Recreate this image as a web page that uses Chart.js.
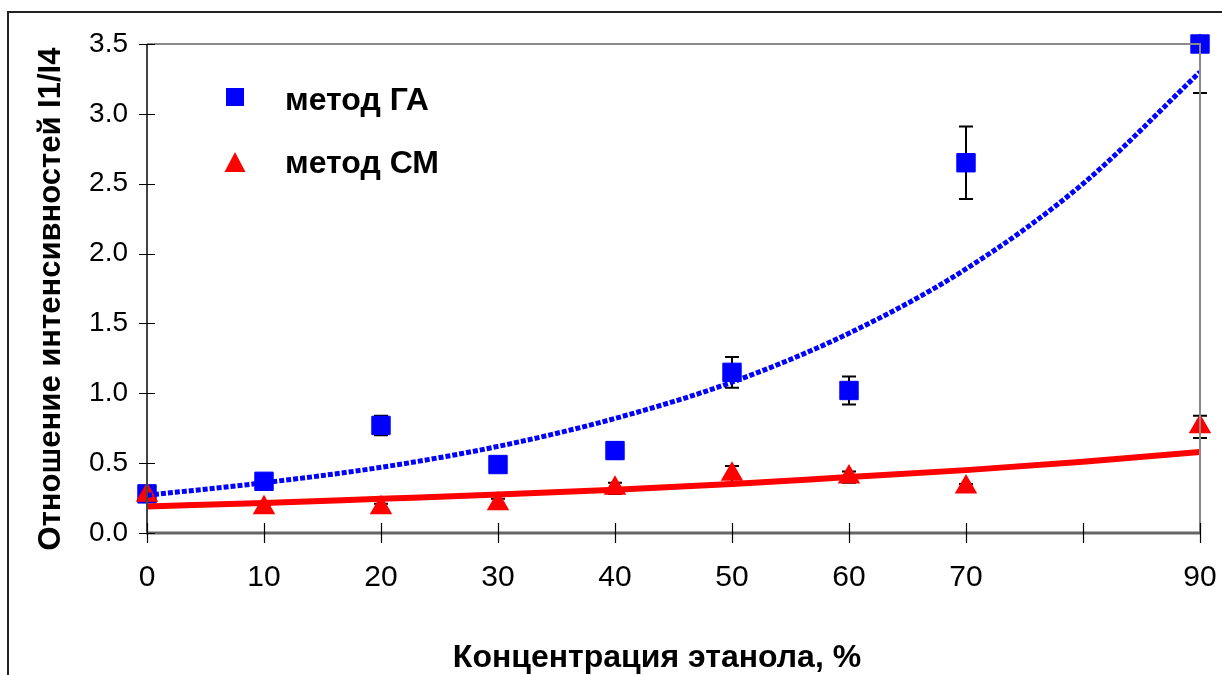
<!DOCTYPE html>
<html><head><meta charset="utf-8">
<script src="https://cdn.jsdelivr.net/npm/chart.js@4/dist/chart.umd.min.js"></script>
<style>html,body{margin:0;padding:0;background:#fff}#wrap{width:1222px;height:675px;position:relative}</style>
</head><body><div id="wrap"><canvas id="c"></canvas></div>
<script>
// ---- data ----
const xTicks = [0, 10, 20, 30, 40, 50, 60, 70, 80, 90];
const xTickLabels = ['0', '10', '20', '30', '40', '50', '60', '70', '', '90'];
const yTicks = [0, 0.5, 1.0, 1.5, 2.0, 2.5, 3.0, 3.5];
const yTickLabels = ['0.0', '0.5', '1.0', '1.5', '2.0', '2.5', '3.0', '3.5'];
const concentrations = [0, 10, 20, 30, 40, 50, 60, 70, 90];
const gaValues = [0.28, 0.37, 0.77, 0.49, 0.59, 1.15, 1.02, 2.65, 3.50];
const gaErrors = [0.02, 0.03, 0.07, 0.03, 0.06, 0.11, 0.10, 0.26, 0.35];
const smValues = [0.27, 0.18, 0.18, 0.21, 0.32, 0.42, 0.40, 0.33, 0.76];
const smErrors = [0.02, 0.02, 0.03, 0.035, 0.04, 0.06, 0.04, 0.02, 0.08];
const trendX = [0, 10, 20, 30, 40, 50, 60, 70, 80, 90];
const gaTrend = [0.27, 0.36, 0.47, 0.62, 0.82, 1.08, 1.43, 1.89, 2.50, 3.30];
const smTrend = [0.19, 0.215, 0.245, 0.275, 0.31, 0.35, 0.40, 0.45, 0.51, 0.58];
const seriesNames = ['метод ГА', 'метод СМ'];
const xTitle = 'Концентрация этанола, %';
const yTitle = 'Отношение интенсивностей I1/I4';

const FONT = '"Liberation Sans", Arial, sans-serif';
const pts = (xs, ys) => xs.map((x, i) => ({x: x, y: ys[i]}));

const decorPlugin = {
  id: 'decor',
  beforeDatasetsDraw(chart) {
    const ctx = chart.ctx, xs = chart.scales.x, ys = chart.scales.y, ca = chart.chartArea;
    ctx.save();
    ctx.beginPath();
    ctx.rect(ca.left - 20, ca.top - 10, ca.right - ca.left + 40, ca.bottom - ca.top + 20);
    ctx.clip();
    ctx.strokeStyle = '#000';
    ctx.lineWidth = 2;
    const drawErr = (vals, errs) => {
      concentrations.forEach((c, i) => {
        const px = xs.getPixelForValue(c);
        const y1 = ys.getPixelForValue(vals[i] + errs[i]);
        const y2 = ys.getPixelForValue(vals[i] - errs[i]);
        ctx.beginPath();
        ctx.moveTo(px, y1); ctx.lineTo(px, y2);
        ctx.moveTo(px - 7, y1); ctx.lineTo(px + 7, y1);
        ctx.moveTo(px - 7, y2); ctx.lineTo(px + 7, y2);
        ctx.stroke();
      });
    };
    drawErr(gaValues, gaErrors);
    drawErr(smValues, smErrors);
    ctx.restore();
  },
  afterDraw(chart) {
    const ctx = chart.ctx, xs = chart.scales.x, ys = chart.scales.y, ca = chart.chartArea;
    ctx.save();
    // plot area top & right border
    ctx.strokeStyle = '#8a8a8a';
    ctx.lineWidth = 2;
    ctx.beginPath();
    ctx.moveTo(ca.left, ca.top); ctx.lineTo(ca.right, ca.top); ctx.lineTo(ca.right, ca.bottom);
    ctx.stroke();
    // axis lines
    ctx.strokeStyle = '#444';
    ctx.lineWidth = 2;
    ctx.beginPath();
    ctx.moveTo(ca.left, ca.top); ctx.lineTo(ca.left, ca.bottom + 1);
    ctx.stroke();
    ctx.strokeStyle = '#666';
    ctx.lineWidth = 3;
    ctx.beginPath();
    ctx.moveTo(ca.left - 1, ca.bottom); ctx.lineTo(ca.right + 1, ca.bottom);
    ctx.stroke();
    // tick marks crossing the axes
    ctx.strokeStyle = '#000';
    ctx.lineWidth = 1.2;
    ctx.beginPath();
    yTicks.forEach(v => {
      const py = Math.round(ys.getPixelForValue(v)) + 0.5;
      ctx.moveTo(ca.left - 8, py); ctx.lineTo(ca.left + 8, py);
    });
    xTicks.forEach(v => {
      const px = Math.round(xs.getPixelForValue(v)) + 0.5;
      ctx.moveTo(px, ca.bottom - 10); ctx.lineTo(px, ca.bottom + 10);
    });
    ctx.stroke();
    // outer frame
    ctx.strokeStyle = '#222';
    ctx.lineWidth = 2;
    ctx.beginPath();
    ctx.moveTo(8, 680); ctx.lineTo(8, 12); ctx.lineTo(1230, 12);
    ctx.stroke();
    // legend
    ctx.fillStyle = '#0000ff';
    ctx.fillRect(226, 88, 18, 18);
    ctx.fillStyle = '#ff0000';
    ctx.beginPath();
    ctx.moveTo(235, 152); ctx.lineTo(245.5, 172); ctx.lineTo(224.5, 172); ctx.closePath();
    ctx.fill();
    ctx.fillStyle = '#000';
    ctx.font = 'bold 32px ' + FONT;
    ctx.textBaseline = 'middle';
    ctx.textAlign = 'left';
    ctx.fillText(seriesNames[0], 285, 101);
    ctx.fillText(seriesNames[1], 285, 164);
    // axis titles
    ctx.textAlign = 'center';
    ctx.fillText(xTitle, 657, 658);
    ctx.font = 'bold 31px ' + FONT;
    ctx.translate(51, 299);
    ctx.rotate(-Math.PI / 2);
    ctx.fillText(yTitle, 0, 0);
    ctx.restore();
  }
};

new Chart(document.getElementById('c'), {
  type: 'scatter',
  data: {
    datasets: [
      {label: seriesNames[0] + ' тренд', data: pts(trendX, gaTrend), showLine: true, pointRadius: 0,
       borderColor: '#0000ff', borderWidth: 5, borderDash: [5, 2], cubicInterpolationMode: 'monotone', order: -2},
      {label: seriesNames[1] + ' тренд', data: pts(trendX, smTrend), showLine: true, pointRadius: 0,
       borderColor: '#ff0000', borderWidth: 6, cubicInterpolationMode: 'monotone', order: -1},
      {label: seriesNames[0], data: pts(concentrations, gaValues), pointStyle: 'rect', pointRadius: 13,
       backgroundColor: '#0000ff', borderColor: '#0000ff', borderWidth: 1, order: 1, clip: false},
      {label: seriesNames[1], data: pts(concentrations, smValues), pointStyle: 'triangle', pointRadius: 13,
       backgroundColor: '#ff0000', borderColor: '#ff0000', borderWidth: 0, order: 0, clip: false}
    ]
  },
  options: {
    responsive: true,
    maintainAspectRatio: false,
    animation: false,
    layout: {padding: {left: 0, right: 22, top: 44, bottom: 0}},
    plugins: {legend: {display: false}, tooltip: {enabled: false}},
    scales: {
      x: {
        type: 'linear', min: 0, max: 90,
        afterFit: s => { s.height = 142; s.paddingLeft = 0; s.paddingRight = 0; },
        afterBuildTicks: s => { s.ticks = xTicks.map(v => ({value: v})); },
        grid: {display: false, drawTicks: false},
        border: {display: false},
        ticks: {
          autoSkip: false, maxRotation: 0, padding: 27, color: '#000',
          font: {family: FONT, size: 30},
          callback: v => xTickLabels[xTicks.indexOf(v)]
        }
      },
      y: {
        type: 'linear', min: 0, max: 3.5,
        afterFit: s => { s.width = 147; s.paddingTop = 0; s.paddingBottom = 0; },
        afterBuildTicks: s => { s.ticks = yTicks.map(v => ({value: v})); },
        grid: {display: false, drawTicks: false},
        border: {display: false},
        ticks: {
          padding: 19, color: '#000',
          font: {family: FONT, size: 28},
          callback: v => yTickLabels[yTicks.indexOf(v)]
        }
      }
    }
  },
  plugins: [decorPlugin]
});
</script>
</body></html>
